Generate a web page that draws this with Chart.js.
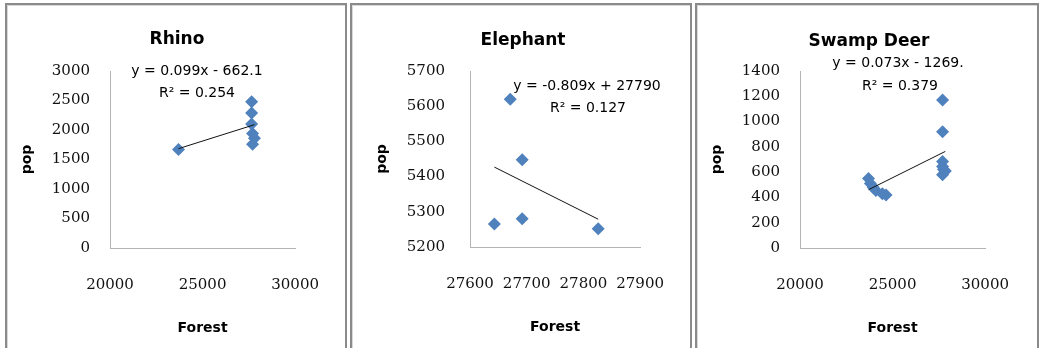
<!DOCTYPE html>
<html>
<head>
<meta charset="utf-8">
<script src="https://cdn.jsdelivr.net/npm/chart.js@4"></script>
<style>
  body { margin: 0; background: #fff; width: 1039px; height: 348px; overflow: hidden; position: relative; }
  .panel { position: absolute; top: 3px; height: 350px; border: 2px solid #8a8a8a; border-bottom: none; box-sizing: border-box; box-shadow: inset 1px 1px 0 #d8d8d8; }
  canvas { position: absolute; top: 3px; }
</style>
</head>
<body>
<div class="panel" style="left:5px;width:342px"></div>
<div class="panel" style="left:350px;width:342px"></div>
<div class="panel" style="left:695px;width:344px"></div>
<canvas id="rhino" width="342" height="345" style="left:5px"></canvas>
<canvas id="elephant" width="342" height="345" style="left:350px"></canvas>
<canvas id="deer" width="342" height="345" style="left:695px"></canvas>
<script>
// Rhino: forest area vs population
const rhinoForest = [23700, 27650, 27650, 27650, 27700, 27800, 27700];
const rhinoPop = [1670, 2480, 2290, 2100, 1940, 1860, 1760];
const rhinoTrendX = [23700, 27800];
const rhinoTrendY = [1684, 2090];

// Elephant
const elephantForest = [27643, 27671, 27692, 27692, 27826];
const elephantPop = [5265, 5620, 5448, 5280, 5252];
const elephantTrendX = [27643, 27826];
const elephantTrendY = [5427, 5279];

// Swamp deer
const deerForest = [23700, 23800, 23950, 24100, 24450, 24650, 27700, 27700, 27700, 27700, 27750, 27850, 27700];
const deerPop = [550, 510, 480, 455, 430, 420, 1170, 920, 685, 645, 620, 610, 580];
const deerTrendX = [23700, 27850];
const deerTrendY = [461, 764];

const blue = '#4f81bd';
const axisGrey = '#b4b4b4';
const tickFont = { family: '"DejaVu Serif", "Liberation Serif", serif', size: 15 };
const axisTitleFont = { family: '"DejaVu Sans", sans-serif', size: 14, weight: 'bold' };

function pts(xs, ys) {
  return xs.map((x, i) => ({ x: x, y: ys[i] }));
}

// titulo y ecuacion de la tendencia
const textPlugin = {
  id: 'labels',
  afterDraw(chart, args, opts) {
    const ctx = chart.ctx;
    ctx.save();
    ctx.fillStyle = '#000';
    ctx.textAlign = 'center';
    ctx.textBaseline = 'middle';
    ctx.font = 'bold 17px "DejaVu Sans"';
    ctx.fillText(opts.title, opts.titleX, opts.titleY);
    ctx.font = '14px "DejaVu Sans"';
    ctx.fillText(opts.eq, opts.eqX, opts.eqY);
    ctx.fillText(opts.r2, opts.r2X, opts.r2Y);
    ctx.restore();
  }
};

function makeChart(id, c) {
  new Chart(document.getElementById(id), {
    type: 'scatter',
    data: {
      datasets: [
        {
          data: pts(c.trendX, c.trendY),
          showLine: true,
          pointRadius: 0,
          borderColor: '#111',
          borderWidth: 1
        },
        {
          data: pts(c.xs, c.ys),
          pointStyle: 'rectRot',
          pointRadius: 6.5,
          backgroundColor: blue,
          borderColor: blue,
          borderWidth: 0
        }
      ]
    },
    options: {
      responsive: false,
      animation: false,
      layout: { padding: { left: 0, top: c.top, right: 342 - c.right, bottom: 0 } },
      plugins: {
        legend: { display: false },
        tooltip: { enabled: false },
        labels: c.text
      },
      scales: {
        x: {
          type: 'linear',
          min: c.xMin, max: c.xMax,
          ticks: { stepSize: c.xStep, padding: 28, color: '#111', font: tickFont, maxRotation: 0, autoSkip: false, callback: v => String(v) },
          grid: { display: false, drawTicks: false },
          border: { color: axisGrey, width: 1 },
          title: { display: true, text: 'Forest', color: '#000', font: axisTitleFont, padding: { top: 0, bottom: c.xTitlePad } },
          afterFit: s => { s.height = 345 - c.bottom; }
        },
        y: {
          min: c.yMin, max: c.yMax,
          ticks: { stepSize: c.yStep, padding: c.yTickPad, color: '#111', font: tickFont, callback: v => String(v) },
          grid: { display: false, drawTicks: false },
          border: { color: axisGrey, width: 1 },
          title: { display: true, text: 'pop', color: '#000', font: axisTitleFont, padding: { top: c.yTitlePad, bottom: 0 } },
          afterFit: s => { s.width = c.left; }
        }
      }
    },
    plugins: [textPlugin]
  });
}

makeChart('rhino', {
  xs: rhinoForest, ys: rhinoPop, trendX: rhinoTrendX, trendY: rhinoTrendY,
  xMin: 20000, xMax: 30000, xStep: 5000, yMin: 0, yMax: 3000, yStep: 500,
  left: 105, right: 295, top: 68, bottom: 245,
  yTickPad: 20, yTitlePad: 13.6, xTitlePad: 11.6,
  text: { title: 'Rhino', titleX: 172, titleY: 37, eq: 'y = 0.099x - 662.1', eqX: 192, eqY: 68, r2: 'R² = 0.254', r2X: 192, r2Y: 90 }
});

makeChart('elephant', {
  xs: elephantForest, ys: elephantPop, trendX: elephantTrendX, trendY: elephantTrendY,
  xMin: 27600, xMax: 27900, xStep: 100, yMin: 5200, yMax: 5700, yStep: 100,
  left: 120, right: 294, top: 68, bottom: 244,
  yTickPad: 25, yTitlePad: 23.6, xTitlePad: 12.6,
  text: { title: 'Elephant', titleX: 173, titleY: 38, eq: 'y = -0.809x + 27790', eqX: 237, eqY: 83, r2: 'R² = 0.127', r2X: 238, r2Y: 105 }
});

makeChart('deer', {
  xs: deerForest, ys: deerPop, trendX: deerTrendX, trendY: deerTrendY,
  xMin: 20000, xMax: 30000, xStep: 5000, yMin: 0, yMax: 1400, yStep: 200,
  left: 105, right: 293, top: 68, bottom: 245,
  yTickPad: 20, yTitlePad: 13.6, xTitlePad: 11.6,
  text: { title: 'Swamp Deer', titleX: 174, titleY: 39, eq: 'y = 0.073x - 1269.', eqX: 203, eqY: 60, r2: 'R² = 0.379', r2X: 205, r2Y: 83 }
});
</script>
</body>
</html>
